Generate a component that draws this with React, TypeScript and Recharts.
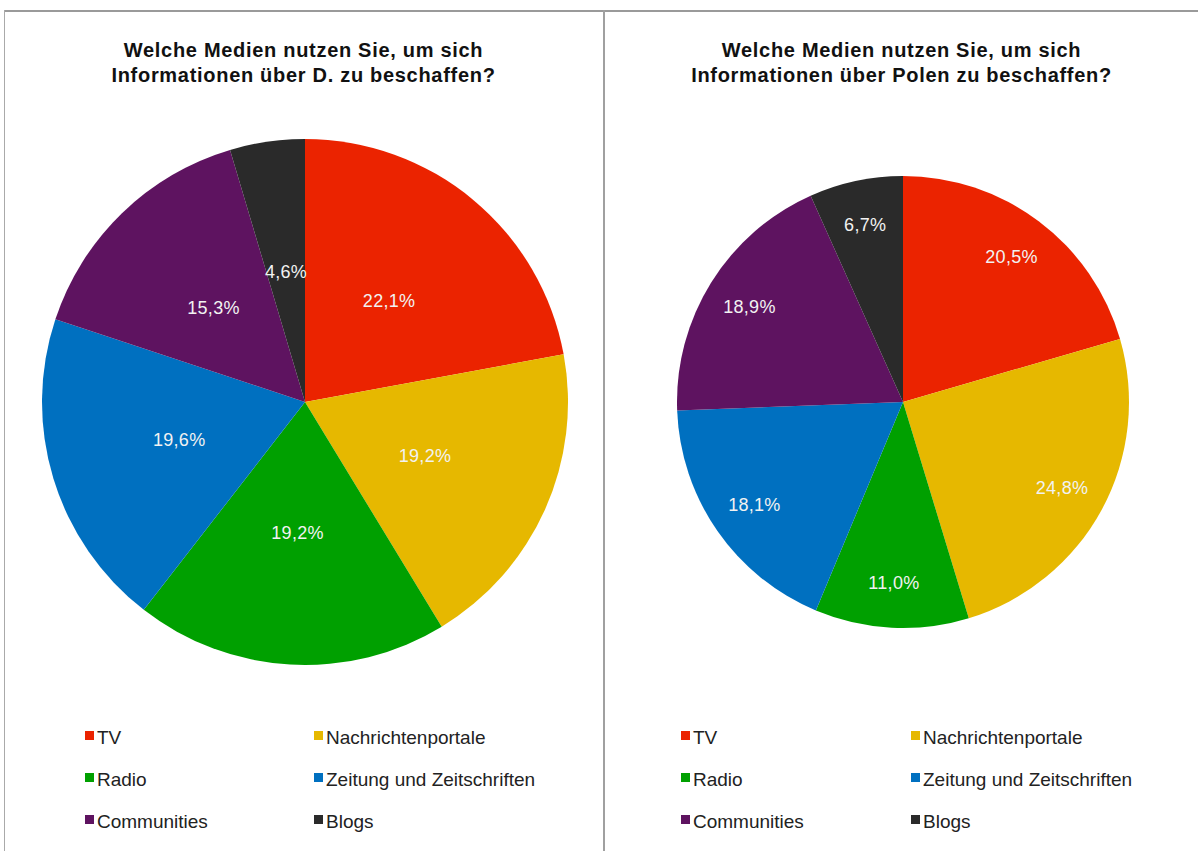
import React from "react"
import { PieChart, Pie, Cell } from "recharts"

const categories = [
  "TV",
  "Nachrichtenportale",
  "Radio",
  "Zeitung und Zeitschriften",
  "Communities",
  "Blogs",
]
const colors = ["#EB2300", "#E6B800", "#00A000", "#0070C0", "#5E1360", "#2A2A2A"]

const germanyValues = [22.1, 19.2, 19.2, 19.6, 15.3, 4.6]
const polandValues = [20.5, 24.8, 11.0, 18.1, 18.9, 6.7]

const titleGermany = ["Welche Medien nutzen Sie, um sich", "Informationen über D. zu beschaffen?"]
const titlePoland = ["Welche Medien nutzen Sie, um sich", "Informationen über Polen zu beschaffen?"]

const FONT = "'Liberation Sans', Arial, Helvetica, sans-serif"
const RAD = Math.PI / 180

const fmt = (v: number) => `${v.toFixed(1).replace(".", ",")}%`

function makeLabel(ratio: number) {
  return (props: any) => {
    const { cx, cy, midAngle, outerRadius, value } = props
    const r = outerRadius * ratio
    const x = cx + r * Math.cos(-midAngle * RAD)
    const y = cy + r * Math.sin(-midAngle * RAD)
    return (
      <text
        x={x}
        y={y}
        fill="#f2f2f2"
        textAnchor="middle"
        dominantBaseline="central"
        fontSize={18}
        letterSpacing={0.3}
        fontFamily={FONT}
      >
        {fmt(value)}
      </text>
    )
  }
}

interface PanelProps {
  left: number
  width: number
  title: string[]
  values: number[]
  cx: number
  radius: number
  labelRatio: number
  legendX: [number, number]
}

function Panel({ left, width, title, values, cx, radius, labelRatio, legendX }: PanelProps) {
  const data = categories.map((name, i) => ({ name, value: values[i] }))
  return (
    <div style={{ position: "absolute", left, top: 11, width, height: 840 }}>
      <div
        style={{
          position: "absolute",
          top: 27,
          left: 0,
          width,
          textAlign: "center",
          fontFamily: FONT,
          fontWeight: "bold",
          fontSize: 20,
          letterSpacing: 0.7,
          lineHeight: "25px",
          color: "#111",
        }}
      >
        {title.map((t) => (
          <div key={t}>{t}</div>
        ))}
      </div>
      <div style={{ position: "absolute", left: 0, top: 0 }}>
        <PieChart width={width} height={700} margin={{ top: 0, right: 0, bottom: 0, left: 0 }}>
          <Pie
            data={data}
            dataKey="value"
            nameKey="name"
            cx={cx}
            cy={391}
            outerRadius={radius}
            startAngle={90}
            endAngle={-270}
            stroke="none"
            label={makeLabel(labelRatio)}
            labelLine={false}
            isAnimationActive={false}
          >
            {data.map((d, i) => (
              <Cell key={d.name} fill={colors[i]} />
            ))}
          </Pie>
        </PieChart>
      </div>
      {categories.map((name, i) => {
        const col = i % 2
        const row = Math.floor(i / 2)
        return (
          <div
            key={name}
            style={{
              position: "absolute",
              left: legendX[col],
              top: 714 + row * 42,
              display: "flex",
              alignItems: "center",
              fontFamily: FONT,
              fontSize: 19,
              lineHeight: "26px",
              color: "#222",
              whiteSpace: "nowrap",
            }}
          >
            <span
              style={{
                display: "inline-block",
                width: 9,
                height: 9,
                background: colors[i],
                marginRight: 3,
                marginTop: -6,
              }}
            />
            {name}
          </div>
        )
      })}
    </div>
  )
}

export default function App() {
  return (
    <div
      style={{
        position: "absolute",
        left: 0,
        top: 0,
        width: 1198,
        height: 851,
        background: "#fff",
        overflow: "hidden",
      }}
    >
      <div style={{ position: "absolute", left: 4, top: 10, width: 1194, height: 2, background: "#9a9a9a" }} />
      <div style={{ position: "absolute", left: 4, top: 10, width: 1, height: 841, background: "#aaa" }} />
      <div style={{ position: "absolute", left: 603, top: 10, width: 2, height: 841, background: "#a0a0a0" }} />
      <Panel
        left={4}
        width={599}
        title={titleGermany}
        values={germanyValues}
        cx={301}
        radius={263}
        labelRatio={0.5}
        legendX={[81, 310]}
      />
      <Panel
        left={605}
        width={593}
        title={titlePoland}
        values={polandValues}
        cx={298}
        radius={226}
        labelRatio={0.8}
        legendX={[76, 306]}
      />
    </div>
  )
}
